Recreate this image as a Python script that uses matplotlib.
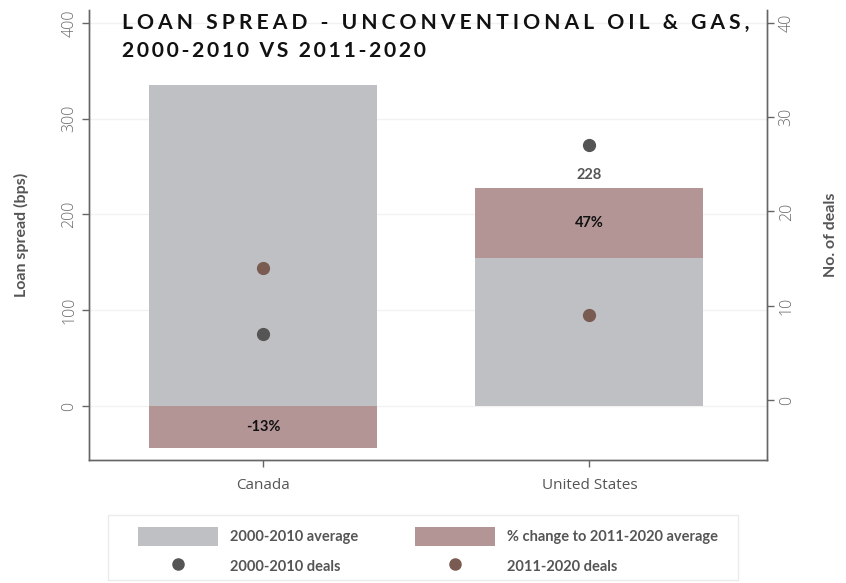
import matplotlib
matplotlib.use('Agg')
import matplotlib.pyplot as plt
import numpy as np
from matplotlib.patches import Patch, Rectangle
from matplotlib.lines import Line2D

# ---- data ----
countries = ['Canada', 'United States']
avg_2000_2010 = [335, 155]          # bps
pct_change = [-13, 47]              # % change to 2011-2020 average
deals_2000_2010 = [7, 27]
deals_2011_2020 = [14, 9]
left_ticks = [0, 100, 200, 300, 400]
right_ticks = [0, 10, 20, 30, 40]
title_lines = ['LOAN SPREAD - UNCONVENTIONAL OIL & GAS,', '2000-2010 VS 2011-2020']
legend_labels = ['2000-2010 average', '2000-2010 deals',
                 '% change to 2011-2020 average', '2011-2020 deals']

GREY = '#bfc0c4'
PINK = '#b39595'
DARK = '#555555'
BROWN = '#7a5b52'
TXT = '#555555'

plt.rcParams['font.family'] = ['Lato', 'DejaVu Sans']

W, H = 846, 583
fig = plt.figure(figsize=(W / 100, H / 100), dpi=100)
ax = fig.add_axes([89 / W, 1 - 460 / H, 678 / W, 450 / H])
ax2 = ax.twinx()

x = np.arange(len(countries))
base = np.array(avg_2000_2010, dtype=float)
change = base * np.array(pct_change) / 100.0
bottoms = np.where(change > 0, base, 0)

ax.bar(x, base, width=0.70, color=GREY, zorder=2)
ax.bar(x, change, bottom=bottoms, width=0.70, color=PINK, zorder=2)

for xi, b, c, p in zip(x, base, change, pct_change):
    mid = (b + c / 2) if c > 0 else c / 2
    ax.text(xi, mid, f'{p}%', ha='center', va='center', fontsize=10.5,
            fontweight='bold', color='#111111', zorder=3)
    if c > 0:
        ax.text(xi, b + c + 6, f'{round(b + c)}', ha='center', va='bottom',
                fontsize=10.5, fontweight='bold', color=TXT, zorder=3)

ax2.plot(x, deals_2000_2010, 'o', color=DARK, markersize=8.5, zorder=4)
ax2.plot(x, deals_2011_2020, 'o', color=BROWN, markersize=8.5, zorder=4)

ax.set_xlim(-0.535, 1.545)
ax.set_ylim(-56.4, 413.4)
ax2.set_ylim(-6.36, 41.36)

ax.set_yticks(left_ticks)
ax2.set_yticks(right_ticks)
ax.set_xticks(x)
ax.set_xticklabels(countries, fontsize=11, color=TXT, family=['Open Sans', 'DejaVu Sans'])
ax.tick_params(axis='x', pad=8)

for a in (ax, ax2):
    for lab in a.get_yticklabels():
        lab.set_rotation(90)
        lab.set_va('center')
        lab.set_fontsize(11.5)
        lab.set_color('#6a6a6a')
        lab.set_family(['Open Sans', 'DejaVu Sans'])
        lab.set_fontweight('light')
    a.spines['top'].set_visible(False)
    for s in ('left', 'right', 'bottom'):
        a.spines[s].set_color('#666666')
        a.spines[s].set_linewidth(1.0)
    a.tick_params(axis='both', color='#666666', length=5, width=1)

ax.grid(axis='y', color='#f2f2f2', linewidth=1, zorder=0)
ax.set_axisbelow(True)

ax.set_ylabel('Loan spread (bps)', fontsize=11.5, fontweight='bold', color=TXT, labelpad=23)
ax2.set_ylabel('No. of deals', fontsize=11.5, fontweight='bold', color=TXT, labelpad=21)

# ---- title with letter spacing (fitted to the reference width) ----
renderer = fig.canvas.get_renderer()
sp1 = '\u2009\u200a'
sp2 = '\u2009'
base_fs = 14.5
t = fig.text(0, 0, sp1.join(list(title_lines[0])), fontsize=base_fs, fontweight='bold')
w = t.get_window_extent(renderer).width
t.remove()
title_fs = base_fs * 624 / w
fig.text(122 / W, 1 - 13 / H, sp1.join(list(title_lines[0])),
         ha='left', va='top', fontsize=title_fs, fontweight='bold', color='#111111')
fig.text(122 / W, 1 - 41 / H, sp2.join(list(title_lines[1])),
         ha='left', va='top', fontsize=title_fs, fontweight='bold', color='#111111')

# ---- legend ----
handles = [
    Patch(facecolor=GREY, edgecolor='none'),
    Line2D([], [], marker='o', color=DARK, linestyle='none', markersize=8),
    Patch(facecolor=PINK, edgecolor='none'),
    Line2D([], [], marker='o', color=BROWN, linestyle='none', markersize=8),
]
fig.patches.append(Rectangle((108 / W, 1 - 580 / H), 630 / W, 65 / H,
                             transform=fig.transFigure, facecolor='white',
                             edgecolor='#ebebeb', linewidth=1, zorder=0))
leg = fig.legend(handles, legend_labels, ncol=2, loc='upper left',
                 bbox_to_anchor=(138 / W, 1 - 527 / H), frameon=False,
                 handlelength=5.5, handleheight=1.6, handletextpad=0.8,
                 columnspacing=3.9, labelspacing=0.75, borderpad=0,
                 borderaxespad=0, prop={'weight': 'bold', 'size': 10.5})
for t in leg.get_texts():
    t.set_color(TXT)

fig.savefig('out.png', dpi=100)
